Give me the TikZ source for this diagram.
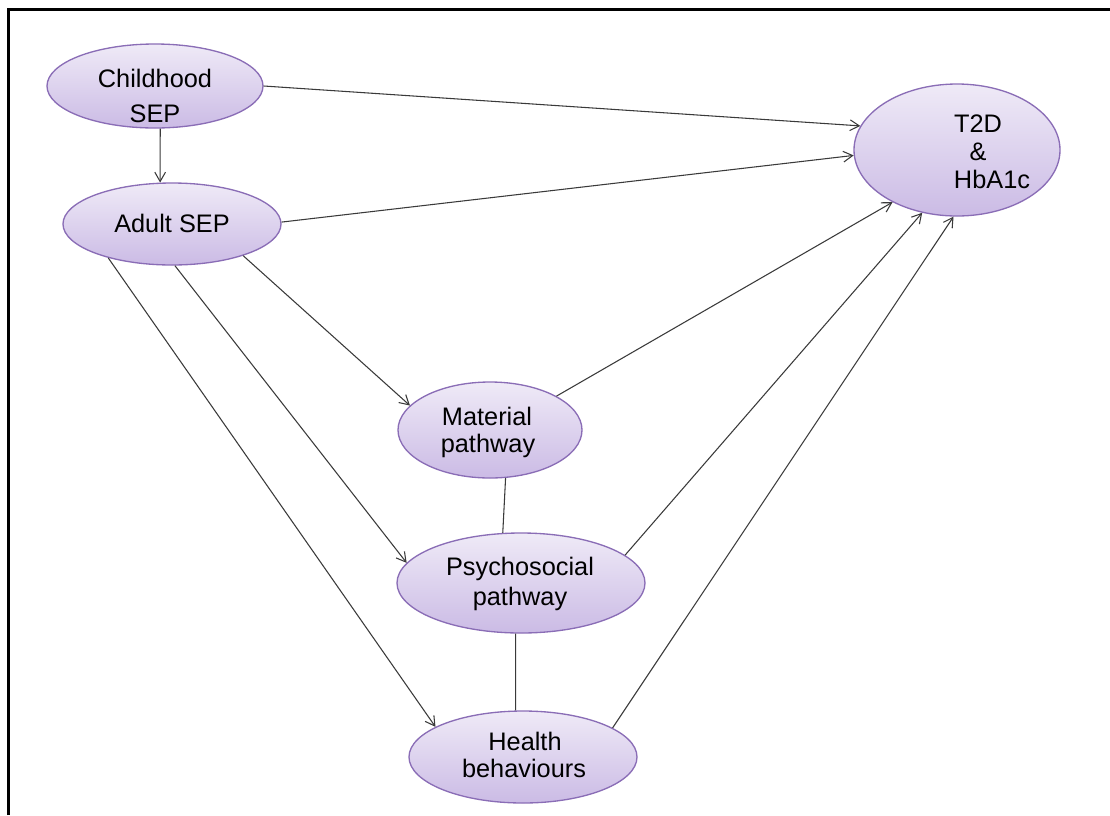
\documentclass[tikz,border=0pt]{standalone}
\usepackage{fontspec}
\setmainfont{Liberation Sans}
\usetikzlibrary{arrows.meta,shapes.geometric}
\definecolor{ovalline}{HTML}{8A6DB6}
\definecolor{ovaltop}{HTML}{EFEAF7}
\definecolor{ovalbot}{HTML}{CBBBE5}
\definecolor{conn}{HTML}{3A3A3A}
\begin{document}
\begin{tikzpicture}[x=0.75pt,y=-0.75pt,
  oval/.style={ellipse, draw=ovalline, line width=1pt,
    top color=ovaltop, bottom color=ovalbot, inner sep=0pt},
  lbl/.style={anchor=base, inner sep=0pt,
    font=\fontsize{19}{22}\selectfont, text=black},
  link/.style={draw=conn, line width=0.8pt},
  arr/.style={link, -{Straight Barb[length=7pt,width=8pt]}}
]
\useasboundingbox (0,0) rectangle (1110,815);
% open frame: top and left edges
\draw[line width=2.25pt, line join=miter] (8,815) -- (8,9.5) -- (1110,9.5);

% ovals
\node[oval, minimum width=162pt,   minimum height=63pt]   (ch)  at (155,86)  {};
\node[oval, minimum width=163.5pt, minimum height=61.5pt] (ad)  at (172,224) {};
\node[oval, minimum width=154.5pt, minimum height=99pt]   (t2d) at (957,150) {};
\node[oval, minimum width=138pt,   minimum height=72pt]   (mat) at (490,430) {};
\node[oval, minimum width=186pt,   minimum height=75pt]   (psy) at (521,583) {};
\node[oval, minimum width=171pt,   minimum height=69pt]   (hb)  at (523,757) {};

% labels
\node[lbl] (ch-1)  at (155,87)  {Childhood};
\node[lbl] (ch-2)  at (155,122) {SEP};
\node[lbl] (ad-1)  at (172,232) {Adult SEP};
\node[lbl] (t2d-1) at (978,132) {T2D};
\node[lbl] (t2d-2) at (978,160) {\&};
\node[lbl] (t2d-3) at (992,188) {HbA1c};
\node[lbl] (mat-1) at (487,425) {Material};
\node[lbl] (mat-2) at (488,452) {pathway};
\node[lbl] (psy-1) at (520,575) {Psychosocial};
\node[lbl] (psy-2) at (520,605) {pathway};
\node[lbl] (hb-1)  at (525,750) {Health};
\node[lbl] (hb-2)  at (524,777) {behaviours};

% directed paths
\draw[arr] (ch.-83)  -- (ad.106);
\draw[arr] (ch.0)    -- (t2d.166);
\draw[arr] (ad.1)    -- (t2d.-177);
\draw[arr] (ad.-24)  -- (mat.163);
\draw[arr] (ad.-86)  -- (psy.170);
\draw[arr] (ad.-152) -- (hb.161);
\draw[arr] (mat.27)  -- (t2d.-141);
\draw[arr] (psy.15)  -- (t2d.-119);
\draw[arr] (hb.18)   -- (t2d.-93);

% undirected links between pathways
\draw[link] (mat.-72) -- (psy.110);
\draw[link] (psy.-96) -- (hb.99);
\end{tikzpicture}
\end{document}
